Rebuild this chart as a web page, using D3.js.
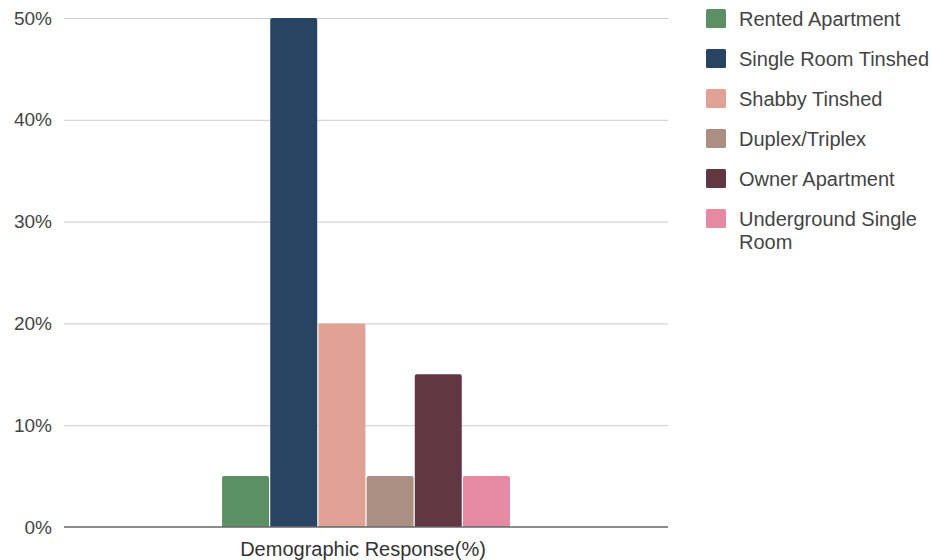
<!DOCTYPE html>
<html>
<head>
<meta charset="utf-8">
<script src="https://cdn.jsdelivr.net/npm/d3@7"></script>
<style>
  html, body { margin: 0; padding: 0; background: #fff; }
  svg { display: block; font-family: "Liberation Sans", Arial, sans-serif; }
</style>
</head>
<body>
<svg id="chart" width="932" height="560"></svg>
<script>
const categories = ["Rented Apartment", "Single Room Tinshed", "Shabby Tinshed", "Duplex/Triplex", "Owner Apartment", "Underground Single Room"];
const values = [5, 50, 20, 5, 15, 5];
const colors = ["#5d8f64", "#274563", "#e0a295", "#ab8f83", "#603743", "#e68aa3"];
const yTicks = [0, 10, 20, 30, 40, 50];
const groupLabel = "Demographic Response(%)";

const svg = d3.select("#chart");
const margin = { left: 64, right: 668, top: 18, bottom: 527 };

const y = d3.scaleLinear().domain([0, 50]).range([margin.bottom, margin.top]);
const xGroup = d3.scaleBand().domain([groupLabel]).range([margin.left, margin.right]).paddingInner(0).paddingOuter(0.549);
const x = d3.scaleBand().domain(categories).range([xGroup(groupLabel), xGroup(groupLabel) + xGroup.bandwidth()]).paddingInner(0.025);

// gridlines
const yAxis = d3.axisLeft(y).tickValues(yTicks).tickSize(-(margin.right - margin.left)).tickFormat(d => d + "%").tickPadding(12);
const gy = svg.append("g").attr("transform", `translate(${margin.left},0)`).call(yAxis);
gy.select(".domain").remove();
gy.selectAll(".tick line").attr("stroke", "#cccccc").attr("stroke-width", 1);
gy.selectAll(".tick text").attr("fill", "#444").attr("font-size", 19).attr("font-family", "Liberation Sans, Arial, sans-serif");
gy.selectAll(".tick").filter(d => d === 0).select("line").attr("stroke", "none");

// bars with slightly rounded top
function barPath(x0, w, yTop, yBot, r) {
  return `M${x0},${yBot}V${yTop + r}Q${x0},${yTop} ${x0 + r},${yTop}H${x0 + w - r}Q${x0 + w},${yTop} ${x0 + w},${yTop + r}V${yBot}Z`;
}
svg.append("g").selectAll("path").data(categories).join("path")
  .attr("d", (c, i) => barPath(x(c), x.bandwidth(), y(values[i]), y(0), 2))
  .attr("fill", (c, i) => colors[i]);

// baseline axis
const xAxis = d3.axisBottom(xGroup).tickSize(0).tickPadding(15);
const gx = svg.append("g").attr("transform", `translate(0,${y(0)})`).call(xAxis);
gx.select(".domain").remove();
gx.append("line").attr("x1", margin.left).attr("x2", margin.right).attr("y1", 0).attr("y2", 0).attr("stroke", "#666").attr("stroke-width", 1.5);
gx.selectAll(".tick text").attr("fill", "#333").attr("font-size", 20).attr("dx", -3).attr("font-family", "Liberation Sans, Arial, sans-serif");

// legend
const legend = svg.append("g").attr("transform", "translate(706,0)");
const items = legend.selectAll("g").data(categories).join("g")
  .attr("transform", (d, i) => `translate(0,${9 + i * 40})`);
items.append("rect").attr("width", 20).attr("height", 19).attr("rx", 1.5).attr("fill", (d, i) => colors[i]);
items.each(function(d) {
  const g = d3.select(this);
  const lines = d === "Underground Single Room" ? ["Underground Single", "Room"] : [d];
  const t = g.append("text").attr("x", 33).attr("y", 16.8).attr("fill", "#444").attr("font-size", 20);
  lines.forEach((l, j) => t.append("tspan").attr("x", 33).attr("dy", j === 0 ? 0 : 23.5).text(l));
});
</script>
</body>
</html>
